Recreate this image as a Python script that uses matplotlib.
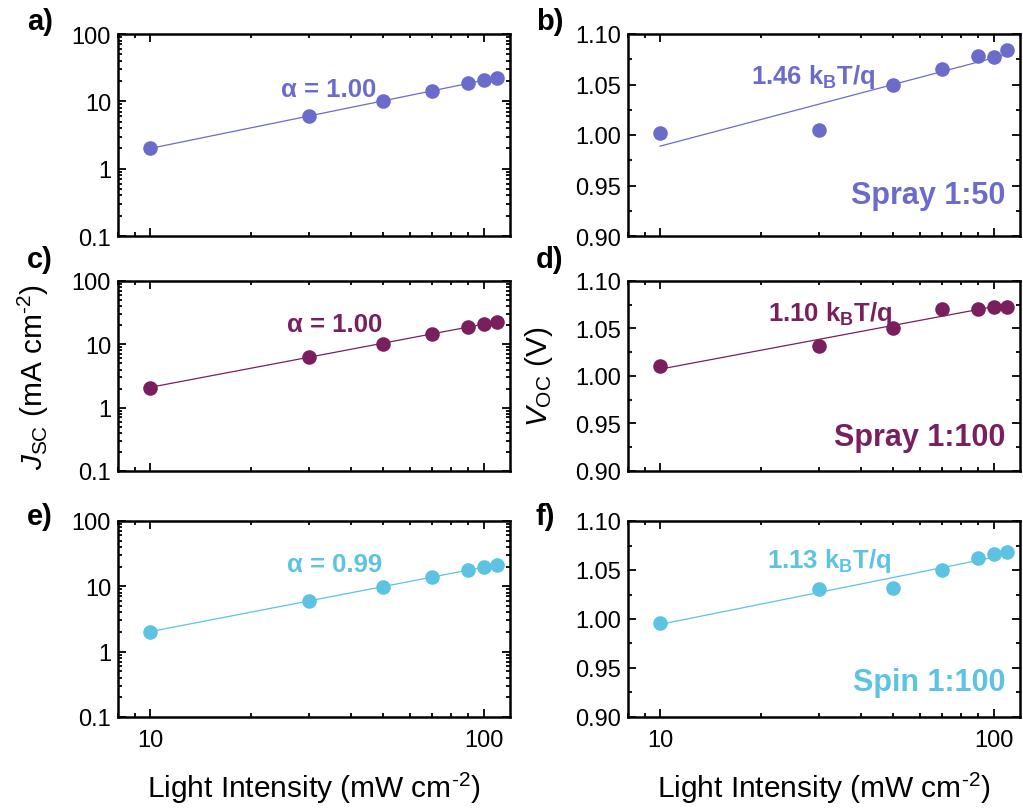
import numpy as np
import matplotlib
matplotlib.use("Agg")
import matplotlib.pyplot as plt
from matplotlib.ticker import FixedLocator, FixedFormatter, NullFormatter, LogLocator, MultipleLocator, FormatStrFormatter

plt.rcParams["font.family"] = ["Liberation Sans", "DejaVu Sans"]
plt.rcParams["mathtext.fontset"] = "custom"
plt.rcParams["mathtext.rm"] = "Liberation Sans"
plt.rcParams["mathtext.it"] = "Liberation Sans:italic"
plt.rcParams["mathtext.bf"] = "Liberation Sans:bold"

# light intensity (mW cm-2)
intensity = [10, 30, 50, 70, 90, 100, 110]

# Jsc (mA cm-2)
jsc_spray50 = [2.0, 6.1, 10.1, 14.2, 18.6, 20.6, 22.5]
jsc_spray100 = [2.08, 6.4, 10.3, 14.6, 19.1, 21.0, 22.4]
jsc_spin100 = [2.03, 6.0, 9.8, 13.9, 18.0, 19.7, 21.4]

# Voc (V)
voc_spray50 = [1.002, 1.005, 1.050, 1.065, 1.078, 1.077, 1.084]
voc_spray100 = [1.010, 1.032, 1.051, 1.071, 1.071, 1.073, 1.073]
voc_spin100 = [0.996, 1.031, 1.032, 1.050, 1.062, 1.066, 1.068]

samples = ["Spray 1:50", "Spray 1:100", "Spin 1:100"]
alphas = ["1.00", "1.00", "0.99"]
ideality = ["1.46", "1.10", "1.13"]
colors = ["#6b6bcb", "#7a1f5e", "#5cc3e3"]

jsc_all = [jsc_spray50, jsc_spray100, jsc_spin100]
voc_all = [voc_spray50, voc_spray100, voc_spin100]

W, H = 1023, 812
fig = plt.figure(figsize=(W / 100, H / 100), dpi=100)

# rows in pixels (top, bottom)
rows = [(35, 237), (282, 472), (522, 718)]
cols = [(118, 510), (628, 1020)]
panel_letters = [("a)", "b)"), ("c)", "d)"), ("e)", "f)")]
letter_y = [22, 260, 517]
sup = r"$^{\text{-}2}$"


def make_ax(col, row):
    l, r = col
    t, b = row
    return fig.add_axes([l / W, 1 - b / H, (r - l) / W, (b - t) / H])


def style(ax, bottom_row):
    for sp in ax.spines.values():
        sp.set_linewidth(1.8)
    ax.tick_params(which="both", direction="in", top=True, right=True, width=1.3, labelsize=17)
    ax.tick_params(which="major", length=6)
    ax.tick_params(which="minor", length=3)
    ax.tick_params(axis="y", pad=5)
    ax.tick_params(axis="x", pad=9)
    ax.set_xscale("log")
    ax.set_xlim(8, 120)
    ax.xaxis.set_major_locator(FixedLocator([10, 100]))
    ax.xaxis.set_minor_locator(LogLocator(base=10, subs=np.arange(2, 10)))
    ax.xaxis.set_minor_formatter(NullFormatter())
    if bottom_row:
        ax.xaxis.set_major_formatter(FixedFormatter(["10", "100"]))
        ax.set_xlabel("Light Intensity (mW cm" + sup + ")", fontsize=21.5)
        ax.xaxis.set_label_coords(0.5, -0.27)
    else:
        ax.xaxis.set_major_formatter(NullFormatter())


x = np.array(intensity, dtype=float)
for i in range(3):
    c = colors[i]
    bottom_row = i == 2

    # Jsc panel (log-log)
    ax = make_ax(cols[0], rows[i])
    style(ax, bottom_row)
    y = np.array(jsc_all[i])
    m, b = np.polyfit(np.log10(x), np.log10(y), 1)
    xf = np.array([x[0], x[-1]])
    ax.plot(xf, 10 ** (b + m * np.log10(xf)), color=c, lw=0.9, zorder=2)
    ax.plot(x, y, "o", color=c, ms=10.5, mec="none", zorder=3)
    ax.set_yscale("log")
    ax.set_ylim(0.1, 100)
    ax.yaxis.set_major_locator(FixedLocator([0.1, 1, 10, 100]))
    ax.yaxis.set_major_formatter(FixedFormatter(["0.1", "1", "10", "100"]))
    ax.yaxis.set_minor_locator(LogLocator(base=10, subs=np.arange(2, 10)))
    ax.yaxis.set_minor_formatter(NullFormatter())
    ax.text(0.415 if i == 0 else 0.43, [0.73, 0.775, 0.78][i], "\u03b1 = " + alphas[i],
            transform=ax.transAxes, color=c, fontsize=18.5, fontweight="bold",
            ha="left", va="center")
    if i == 1:
        ax.set_ylabel(r"$J_{\mathrm{SC}}$ (mA cm" + sup + ")", fontsize=21.5)
        ax.yaxis.set_label_coords(-0.17, 0.5)

    # Voc panel (semilog x)
    ax = make_ax(cols[1], rows[i])
    style(ax, bottom_row)
    v = np.array(voc_all[i])
    m, b = np.polyfit(np.log10(x), v, 1)
    ax.plot(xf, b + m * np.log10(xf), color=c, lw=0.9, zorder=2)
    ax.plot(x, v, "o", color=c, ms=10.5, mec="none", zorder=3)
    ax.set_ylim(0.90, 1.10)
    ax.yaxis.set_major_locator(MultipleLocator(0.05))
    ax.yaxis.set_minor_locator(MultipleLocator(0.025))
    ax.yaxis.set_major_formatter(FormatStrFormatter("%.2f"))
    ax.text([0.314, 0.357, 0.355][i], [0.79, 0.83, 0.80][i],
            ideality[i] + r" k$_\mathbf{B}$T/q",
            transform=ax.transAxes, color=c, fontsize=18.5, fontweight="bold",
            ha="left", va="center")
    ax.text(0.962, [0.205, 0.18, 0.18][i], samples[i], transform=ax.transAxes,
            color=c, fontsize=22, fontweight="bold", ha="right", va="center")
    if i == 1:
        ax.set_ylabel(r"$V_{\mathrm{OC}}$ (V)", fontsize=21.5)
        ax.yaxis.set_label_coords(-0.185, 0.5)

    # panel letters
    fig.text(27 / W, 1 - letter_y[i] / H, panel_letters[i][0], fontsize=21,
             fontweight="bold", ha="left", va="center")
    fig.text(536 / W, 1 - letter_y[i] / H, panel_letters[i][1], fontsize=21,
             fontweight="bold", ha="left", va="center")

fig.savefig("out.png", dpi=100)
